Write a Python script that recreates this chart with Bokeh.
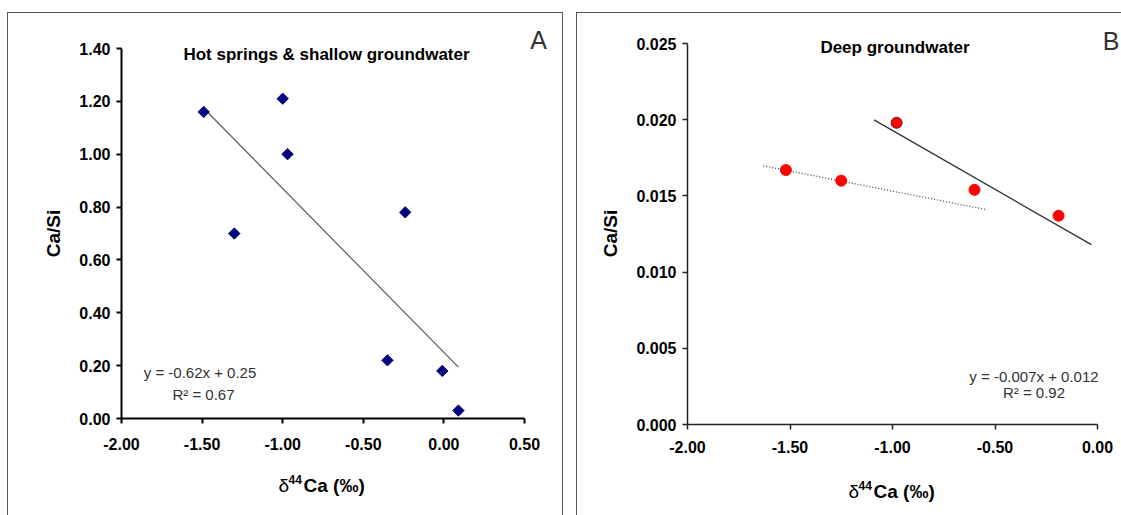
import numpy as np
from bokeh.plotting import figure
from bokeh.layouts import row
from bokeh.models import Range1d, FixedTicker, NumeralTickFormatter, Label
from bokeh.embed import file_html
from bokeh.resources import INLINE

# ---------------- data ----------------
# Panel A: hot springs & shallow groundwater
a_d44ca = [-1.49, -1.00, -0.97, -1.30, -0.24, -0.35, -0.01, 0.09]
a_ca_si = [1.16, 1.21, 1.00, 0.70, 0.78, 0.22, 0.18, 0.03]
a_trend = (-0.62, 0.25)                    # slope, intercept
a_xticks = [-2.0, -1.5, -1.0, -0.5, 0.0, 0.5]
a_yticks = [0.0, 0.2, 0.4, 0.6, 0.8, 1.0, 1.2, 1.4]
a_title = "Hot springs & shallow groundwater"
a_eq = ["y = -0.62x + 0.25", "R\u00b2 = 0.67"]

# Panel B: deep groundwater
b_d44ca = [-1.52, -1.25, -0.98, -0.60, -0.19]
b_ca_si = [0.0167, 0.0160, 0.0198, 0.0154, 0.0137]
b_outlined_point = 2
b_trend_solid = (-0.00772, 0.01157)
b_trend_solid_x = [-1.09, -0.03]
b_trend_dotted = (-0.00264, 0.01267)
b_trend_dotted_x = [-1.63, -0.54]
b_xticks = [-2.0, -1.5, -1.0, -0.5, 0.0]
b_yticks = [0.0, 0.005, 0.010, 0.015, 0.020, 0.025]
b_title = "Deep groundwater"
b_eq = ["y = -0.007x + 0.012", "R\u00b2 = 0.92"]

x_title = ["\u03b4", "44", "Ca (\u2030)"]
y_title = "Ca/Si"

FONT = "Liberation Sans"


class Panel:
    """One panel: the plot frame fills the whole host box; the axes are drawn
    at fixed data locations and bounded to the data extents."""

    def __init__(self, host, axis_px, xbounds, ybounds, shadow, margin):
        hl, ht, hw, hh = host
        ax_l, ax_r, ax_t, ax_b = axis_px          # page px of the axis box
        xs = (xbounds[1] - xbounds[0]) / (ax_r - ax_l)
        ys = (ybounds[1] - ybounds[0]) / (ax_b - ax_t)
        x0 = xbounds[0] + (hl - ax_l) * xs
        x1 = xbounds[0] + (hl + hw - ax_l) * xs
        y0 = ybounds[0] - (ht + hh - ax_b) * ys
        y1 = ybounds[0] + (ax_b - ht) * ys
        self.left, self.bottom = hl, ht + hh
        p = figure(x_range=Range1d(x0, x1), y_range=Range1d(y0, y1),
                   frame_width=hw, frame_height=hh,
                   min_border_left=0, min_border_top=0,
                   min_border_right=0, min_border_bottom=0,
                   output_backend="svg", toolbar_location=None, tools="",
                   styles={"box-shadow": shadow}, margin=margin)
        p.xgrid.visible = False
        p.ygrid.visible = False
        p.outline_line_color = None
        p.background_fill_alpha = 0
        p.border_fill_alpha = 0
        p.xaxis.bounds = tuple(xbounds)
        p.yaxis.bounds = tuple(ybounds)
        p.xaxis.fixed_location = ybounds[0]
        p.yaxis.fixed_location = xbounds[0]
        self.p = p

    def style_axes(self, xticks, yticks, xfmt, yfmt, lw, lc, xstand):
        p = self.p
        p.xaxis.ticker = FixedTicker(ticks=xticks)
        p.yaxis.ticker = FixedTicker(ticks=yticks)
        p.xaxis.formatter = NumeralTickFormatter(format=xfmt)
        p.yaxis.formatter = NumeralTickFormatter(format=yfmt)
        for ax in (p.xaxis[0], p.yaxis[0]):
            ax.axis_line_color = lc
            ax.axis_line_width = lw
            ax.major_tick_line_color = lc
            ax.major_tick_line_width = lw
            ax.major_tick_out = 5
            ax.major_tick_in = 0
            ax.minor_tick_line_color = None
            ax.major_label_text_font = FONT
            ax.major_label_text_font_style = "bold"
            ax.major_label_text_font_size = "16px"
            ax.major_label_text_color = "black"
        p.xaxis.major_label_standoff = xstand
        p.yaxis.major_label_standoff = 6

    def text(self, px, py, text, size, style="normal", color="black",
             align="center", baseline="middle", angle=0.0):
        self.p.add_layout(Label(x=px - self.left, y=self.bottom - py,
                                x_units="screen", y_units="screen",
                                text=text, text_font=FONT, text_font_size=size,
                                text_font_style=style, text_color=color,
                                text_align=align, text_baseline=baseline,
                                angle=angle))

    def titles(self, ylab_xy, xlab_left, xlab_base):
        self.text(ylab_xy[0], ylab_xy[1], y_title, "19px", style="bold", angle=np.pi / 2)
        self.text(xlab_left, xlab_base, x_title[0], "19px", align="left", baseline="alphabetic")
        self.text(xlab_left + 10, xlab_base - 6, x_title[1], "12px", style="bold",
                  align="left", baseline="alphabetic")
        self.text(xlab_left + 25, xlab_base, x_title[2], "19px", style="bold",
                  align="left", baseline="alphabetic")


# ---------------- Panel A ----------------
A_HOST = (7, 12, 556, 503)
A = Panel(A_HOST, (121, 524, 48, 418), (-2.0, 0.5), (0.0, 1.4),
          "inset 1px 1px 0 0 #555, inset -1px 0 0 0 #555",
          (A_HOST[1], 0, 0, A_HOST[0]))
A.style_axes(a_xticks, a_yticks, "0.00", "0.00", 2, "black", 14)
pa = A.p

a_tx = np.array([min(a_d44ca), max(a_d44ca)])
pa.line(a_tx, a_trend[0] * a_tx + a_trend[1], line_color="#5a5a5a", line_width=1.2)
pa.scatter(a_d44ca, a_ca_si, marker="square", angle=np.pi / 4, size=8,
           fill_color="#000080", line_color="#000080")

A.text(326, 54, a_title, "17px", style="bold")
A.text(538, 39, "A", "25px", color="#333333")
A.text(199.5, 372, a_eq[0], "15px", color="#333333")
A.text(203, 394, a_eq[1], "15px", color="#333333")
A.titles((53, 233), 278, 485)

# ---------------- Panel B ----------------
B_HOST = (576, 12, 545, 503)
B = Panel(B_HOST, (687, 1097, 43, 424), (-2.0, 0.0), (0.0, 0.025),
          "inset 1px 1px 0 0 #555",
          (B_HOST[1], 0, 0, B_HOST[0] - (A_HOST[0] + A_HOST[2])))
B.style_axes(b_xticks, b_yticks, "0.00", "0.000", 1.5, "#222222", 11)
pb = B.p

sx = np.array(b_trend_solid_x)
pb.line(sx, b_trend_solid[0] * sx + b_trend_solid[1], line_color="#333333", line_width=1.3)
dx = np.array(b_trend_dotted_x)
pb.line(dx, b_trend_dotted[0] * dx + b_trend_dotted[1], line_color="#444444",
        line_width=1.3, line_dash="1 2")
b_line_colors = ["#ff0000"] * len(b_d44ca)
b_line_colors[b_outlined_point] = "#6b1a1a"
pb.scatter(b_d44ca, b_ca_si, marker="circle", size=11, fill_color="#ff0000",
           line_color=b_line_colors, line_width=1)

B.text(894.5, 46.5, b_title, "17px", style="bold")
B.text(1110.5, 40.5, "B", "25px", color="#333333")
B.text(1033.5, 375.5, b_eq[0], "15px", color="#333333")
B.text(1033.5, 392, b_eq[1], "15px", color="#333333")
B.titles((610, 233), 848, 491)

layout = row(pa, pb)
open("out.html", "w").write(file_html(layout, INLINE))
